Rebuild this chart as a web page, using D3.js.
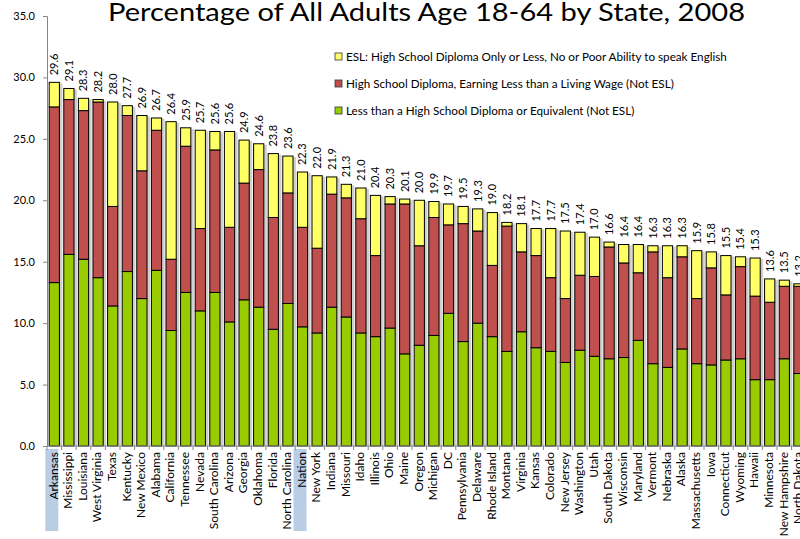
<!DOCTYPE html>
<html><head><meta charset="utf-8">
<script src="https://cdn.jsdelivr.net/npm/d3@7"></script>
<style>
html,body{margin:0;padding:0;background:#fff;overflow:hidden;}
svg{display:block;font-family:Lato,"Open Sans",sans-serif;}
</style></head>
<body>
<svg id="chart" width="800" height="539"></svg>
<script>
const states = ["Arkansas","Mississippi","Louisiana","West Virginia","Texas","Kentucky","New Mexico","Alabama","California","Tennessee","Nevada","South Carolina","Arizona","Georgia","Oklahoma","Florida","North Carolina","Nation","New York","Indiana","Missouri","Idaho","Illinois","Ohio","Maine","Oregon","Michigan","DC","Pennsylvania","Delaware","Rhode Island","Montana","Virginia","Kansas","Colorado","New Jersey","Washington","Utah","South Dakota","Wisconsin","Maryland","Vermont","Nebraska","Alaska","Massachusetts","Iowa","Connecticut","Wyoming","Hawaii","Minnesota","New Hampshire","North Dakota"];
// Less than a High School Diploma or Equivalent (Not ESL)
const lessThanHS = [13.3,15.6,15.2,13.7,11.4,14.2,12.0,14.3,9.4,12.5,11.0,12.5,10.1,11.9,11.3,9.5,11.6,9.7,9.2,11.3,10.5,9.2,8.9,9.6,7.5,8.2,9.0,10.8,8.5,10.0,8.9,7.7,9.3,8.0,7.7,6.8,7.8,7.3,7.1,7.2,8.6,6.7,6.4,7.9,6.7,6.6,7.0,7.1,5.4,5.4,7.1,5.9];
// High School Diploma, Earning Less than a Living Wage (Not ESL)
const hsLowWage = [14.3,12.6,12.1,14.3,8.1,12.7,10.4,11.4,5.8,11.9,6.7,11.6,7.7,9.5,11.2,9.1,9.0,8.1,6.9,9.2,9.7,9.3,6.6,10.1,12.2,8.1,9.6,7.2,9.6,7.5,5.8,10.2,6.5,7.5,6.0,5.2,6.1,6.5,9.1,7.7,5.5,9.1,7.3,7.5,5.3,7.9,5.3,7.5,6.8,6.3,5.9,7.1];
// ESL: High School Diploma Only or Less, No or Poor Ability to speak English
const eslLow = [2.0,0.9,1.0,0.2,8.5,0.8,4.5,1.0,11.2,1.5,8.0,1.5,7.8,3.5,2.1,5.2,3.0,4.5,5.9,1.4,1.1,2.5,4.9,0.6,0.4,3.7,1.3,1.7,1.4,1.8,4.3,0.3,2.3,2.2,4.0,5.5,3.5,3.2,0.4,1.5,2.3,0.5,2.6,0.9,3.9,1.3,3.2,0.8,3.1,1.9,0.5,0.2];
const totals = ["29.6","29.1","28.3","28.2","28.0","27.7","26.9","26.7","26.4","25.9","25.7","25.6","25.6","24.9","24.6","23.8","23.6","22.3","22.0","21.9","21.3","21.0","20.4","20.3","20.1","20.0","19.9","19.7","19.5","19.3","19.0","18.2","18.1","17.7","17.7","17.5","17.4","17.0","16.6","16.4","16.4","16.3","16.3","16.3","15.9","15.8","15.5","15.4","15.3","13.6","13.5","13.2"];
const highlighted = ["Arkansas","Nation"];
const yTicks = [0,5,10,15,20,25,30,35];
const seriesKeys = ["less","hs","esl"];
const seriesNames = {
  esl:"ESL: High School Diploma Only or Less, No or Poor Ability to speak English",
  hs:"High School Diploma, Earning Less than a Living Wage (Not ESL)",
  less:"Less than a High School Diploma or Equivalent (Not ESL)"
};
const colors = {less:"#99cc00", hs:"#c0504d", esl:"#ffff66"};
const title = "Percentage of All Adults Age 18-64 by State, 2008";

const rows = states.map((s,i)=>({state:s, less:lessThanHS[i], hs:hsLowWage[i], esl:eslLow[i], total:totals[i]}));

const svg = d3.select("#chart");
const x0 = 47, n = states.length, step = 14.6;
const x = d3.scaleBand().domain(states).range([x0, x0 + n*step]).paddingInner(0.3).paddingOuter(0.15);
const y = d3.scaleLinear().domain([0,35]).range([446,16]);

// highlight boxes behind labels
svg.append("g").selectAll("rect").data(highlighted).join("rect")
  .attr("x", d => x(d) + x.bandwidth()/2 - 9).attr("y", 449)
  .attr("width", 13).attr("height", 82).attr("fill", "#b9cde5");

const stack = d3.stack().keys(seriesKeys)(rows);

// shadows
svg.append("g").selectAll("rect").data(rows).join("rect")
  .attr("x", d => x(d.state) + 1.5)
  .attr("y", d => y(d.less+d.hs+d.esl) + 1)
  .attr("width", x.bandwidth() + 1.5)
  .attr("height", d => y(0) - y(d.less+d.hs+d.esl) - 1)
  .attr("fill", "#cfcfcf");

const gBars = svg.append("g");
stack.forEach(layer => {
  gBars.append("g").selectAll("rect").data(layer).join("rect")
    .attr("x", d => x(d.data.state))
    .attr("y", d => y(d[1]))
    .attr("width", x.bandwidth())
    .attr("height", d => Math.max(0, y(d[0]) - y(d[1])))
    .attr("fill", colors[layer.key])
    .attr("stroke", "#000").attr("stroke-width", 1);
});

// y axis
const yAxis = d3.axisLeft(y).tickValues(yTicks).tickFormat(d3.format(".1f")).tickSize(4).tickPadding(8);
const gy = svg.append("g").attr("transform", `translate(${x0},0)`).call(yAxis);
gy.select(".domain").attr("stroke", "#868686");
gy.selectAll(".tick line").attr("stroke", "#868686");
gy.selectAll(".tick text").attr("font-size", 11).attr("fill", "#000").attr("font-family", "Lato,'Open Sans',sans-serif");

// x axis
const gx = svg.append("g").attr("transform", `translate(0,${y(0)})`);
gx.append("line").attr("x1", x0).attr("x2", 800).attr("y1", 0).attr("y2", 0).attr("stroke", "#868686");
gx.selectAll("line.tk").data(d3.range(n+1)).join("line").attr("class","tk")
  .attr("x1", i => x0 + i*x.step()).attr("x2", i => x0 + i*x.step())
  .attr("y1", 0).attr("y2", 4).attr("stroke", "#868686");
gx.selectAll("text").data(states).join("text")
  .attr("transform", d => `translate(${x(d) + x.bandwidth()/2 - 1},6) rotate(-90)`)
  .attr("text-anchor", "end").attr("dy", "0.35em")
  .attr("font-size", 12).attr("fill", "#000").text(d => d);

// value labels
svg.append("g").selectAll("text").data(rows).join("text")
  .attr("transform", d => `translate(${x(d.state) + x.bandwidth()/2},${y(+d.total) - 7}) rotate(-90)`)
  .attr("text-anchor", "start").attr("dy", "0.35em")
  .attr("font-size", 11).attr("fill", "#000").text(d => d.total);

// title
svg.append("text").attr("x", 108).attr("y", 21)
  .attr("font-size", 25).attr("fill", "#000")
  .attr("textLength", 637).attr("lengthAdjust", "spacingAndGlyphs")
  .text(title);

// legend
const legendOrder = ["esl","hs","less"];
const lg = svg.append("g").selectAll("g").data(legendOrder).join("g")
  .attr("transform", (d,i) => `translate(335,${53 + i*27})`);
lg.append("rect").attr("width", 7).attr("height", 7).attr("fill", d => colors[d]).attr("stroke", "#333").attr("stroke-width", 0.8);
lg.append("text").attr("x", 11).attr("y", 4).attr("dy", "0.35em").attr("font-size", 11.7).attr("fill", "#000").text(d => seriesNames[d]);
</script>
</body></html>
